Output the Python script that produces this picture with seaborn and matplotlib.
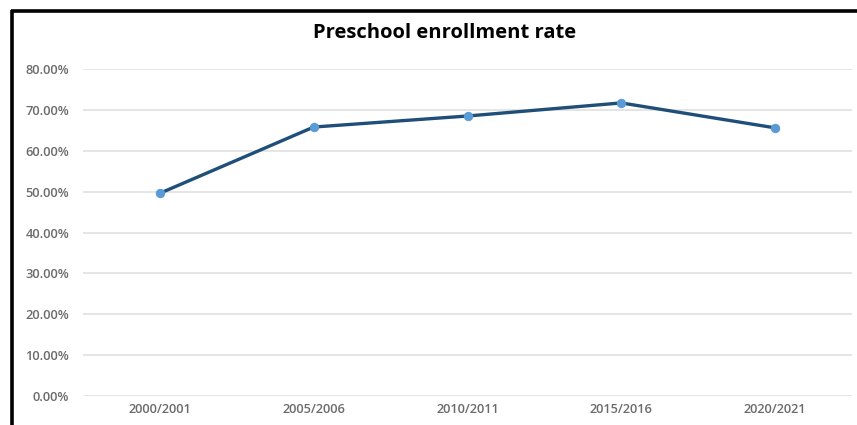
import matplotlib
matplotlib.use("Agg")
import matplotlib.pyplot as plt
import seaborn as sns
import pandas as pd
from matplotlib.lines import Line2D
from matplotlib.ticker import PercentFormatter

# School years and preschool enrollment rates
years = ["2000/2001", "2005/2006", "2010/2011", "2015/2016", "2020/2021"]
rates = [49.6, 65.8, 68.5, 71.7, 65.6]
y_ticks = [0, 10, 20, 30, 40, 50, 60, 70, 80]

df = pd.DataFrame({"year": years, "rate": rates})

sns.set_theme(style="white")
plt.rcParams["font.family"] = ["Open Sans", "DejaVu Sans"]

fig = plt.figure(figsize=(8.57, 4.25), dpi=100)
ax = fig.add_axes([83 / 857, 29 / 425, 769 / 857, 327 / 425])

sns.lineplot(data=df, x="year", y="rate", ax=ax, sort=False,
             color="#1F4E79", linewidth=2.4, marker="o", markersize=6,
             markerfacecolor="#5B9BD5", markeredgecolor="#5B9BD5")

ax.set_xlim(-0.5, len(years) - 0.5)
ax.set_ylim(0, 80)
ax.set_yticks(y_ticks)
ax.yaxis.set_major_formatter(PercentFormatter(decimals=2))
ax.grid(axis="y", color="#DEDEDE", linewidth=1.1)
ax.set_axisbelow(True)
for s in ax.spines.values():
    s.set_visible(False)
ax.set_xlabel("")
ax.set_ylabel("")
ax.tick_params(axis="y", length=0, labelsize=9.3, labelcolor="#6B6B6B", pad=10)
ax.tick_params(axis="x", length=0, labelsize=9.2, labelcolor="#6B6B6B", pad=5)
for lab in ax.get_xticklabels() + ax.get_yticklabels():
    lab.set_fontweight("semibold")

fig.text(445 / 857, 1 - 33 / 425, "Preschool enrollment rate",
         ha="center", va="center", fontsize=14.5, fontweight="bold",
         color="black")

# Frame edges along the top and left
fig.add_artist(Line2D([11 / 857, 1.0], [1 - 10.5 / 425, 1 - 10.5 / 425],
                      transform=fig.transFigure, color="black", linewidth=2.6,
                      solid_capstyle="butt"))
fig.add_artist(Line2D([11.5 / 857, 11.5 / 857], [0, 1 - 9.5 / 425],
                      transform=fig.transFigure, color="black", linewidth=2.6,
                      solid_capstyle="butt"))

fig.savefig("out.png", dpi=100, facecolor="white")
